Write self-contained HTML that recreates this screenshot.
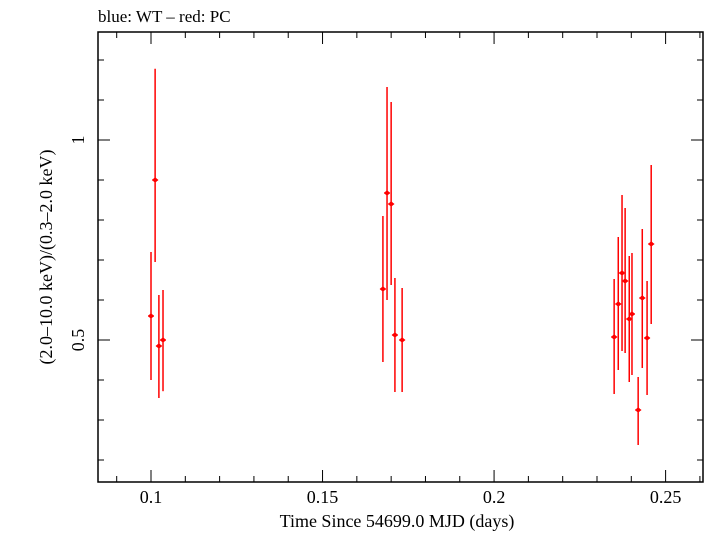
<!DOCTYPE html>
<html><head><meta charset="utf-8"><style>
body{margin:0;background:#fff;}
svg text{font-family:"Liberation Serif",serif;fill:#000;}
</style></head><body>
<svg width="705" height="532" id="c">
<text x="98" y="22" font-size="17">blue: WT – red: PC</text>
<rect x="98" y="32" width="605" height="450" fill="none" stroke="#000" stroke-width="1.5"/>
<g id="ticks"></g>
<g id="marks"></g>
<text x="397" y="527" font-size="18" text-anchor="middle">Time Since 54699.0 MJD (days)</text>
<text transform="translate(52,257) rotate(-90)" font-size="18" text-anchor="middle">(2.0–10.0 keV)/(0.3–2.0 keV)</text>
</svg>
<script>
const times=[0.1000,0.1012,0.1023,0.1035,0.1676,0.1688,0.1700,0.1711,0.1732,0.2350,0.2362,0.2373,0.2382,0.2394,0.2402,0.2420,0.2432,0.2446,0.2458];
const ratios=[0.56,0.90,0.485,0.50,0.6275,0.8675,0.84,0.5125,0.50,0.5075,0.59,0.6675,0.6475,0.5525,0.565,0.325,0.605,0.505,0.74];
const errHigh=[0.72,1.178,0.6125,0.625,0.81,1.1325,1.095,0.655,0.63,0.6525,0.7575,0.8625,0.83,0.71,0.7175,0.4075,0.7775,0.6475,0.9375];
const errLow=[0.40,0.695,0.355,0.372,0.445,0.60,0.6375,0.37,0.37,0.365,0.425,0.4725,0.4675,0.395,0.4125,0.2375,0.43,0.3625,0.54];
const xTicks=[0.1,0.15,0.2,0.25];
const yTicks=[0.5,1];
const NS="http://www.w3.org/2000/svg";
const X0=0.08455,X1=0.2609,Y0=0.145,Y1=1.27;
const L=98,R=703,T=32,B=482;
function sx(v){return L+(v-X0)/(X1-X0)*(R-L);}
function sy(v){return B-(v-Y0)/(Y1-Y0)*(B-T);}
function mk(tag,a,p){const e=document.createElementNS(NS,tag);for(const k in a)e.setAttribute(k,a[k]);p.appendChild(e);return e;}
const tg=document.getElementById('ticks'),mg=document.getElementById('marks');
for(let k=9;k<=26;k++){const v=k/100;const x=sx(v);if(x<L||x>R)continue;const major=(k%5===0);const len=major?12:6;
const t1=mk('line',{x1:x,x2:x,y1:B,y2:B-len,stroke:'#000','stroke-width':1},tg);

const t2=mk('line',{x1:x,x2:x,y1:T,y2:T+len,stroke:'#000','stroke-width':1},tg);
}
for(let k=1;k<=12;k++){const v=k/10;const y=sy(v);if(y<T||y>B)continue;const major=(k%5===0);const len=major?12:6;
const t1=mk('line',{x1:L,x2:L+len,y1:y,y2:y,stroke:'#000','stroke-width':1},tg);

const t2=mk('line',{x1:R,x2:R-len,y1:y,y2:y,stroke:'#000','stroke-width':1},tg);
}
xTicks.forEach(v=>{const t=mk('text',{x:sx(v),y:B+21,'font-size':18,'text-anchor':'middle'},tg);t.textContent=String(v);
});
yTicks.forEach(v=>{const t=mk('text',{transform:`translate(${L-14},${sy(v)}) rotate(-90)`,'font-size':18,'text-anchor':'middle'},tg);t.textContent=String(v);
});
times.forEach((t,i)=>{const x=sx(t),y=sy(ratios[i]);
const e=mk('line',{x1:x,x2:x,y1:sy(errHigh[i]),y2:sy(errLow[i]),stroke:'#f00','stroke-width':1.5},mg);

const h=mk('line',{x1:x-3,x2:x+3,y1:y,y2:y,stroke:'#f00','stroke-width':1.5},mg);

const c=mk('circle',{cx:x,cy:y,r:2.2,fill:'#f00'},mg);
});
</script>
</body></html>
